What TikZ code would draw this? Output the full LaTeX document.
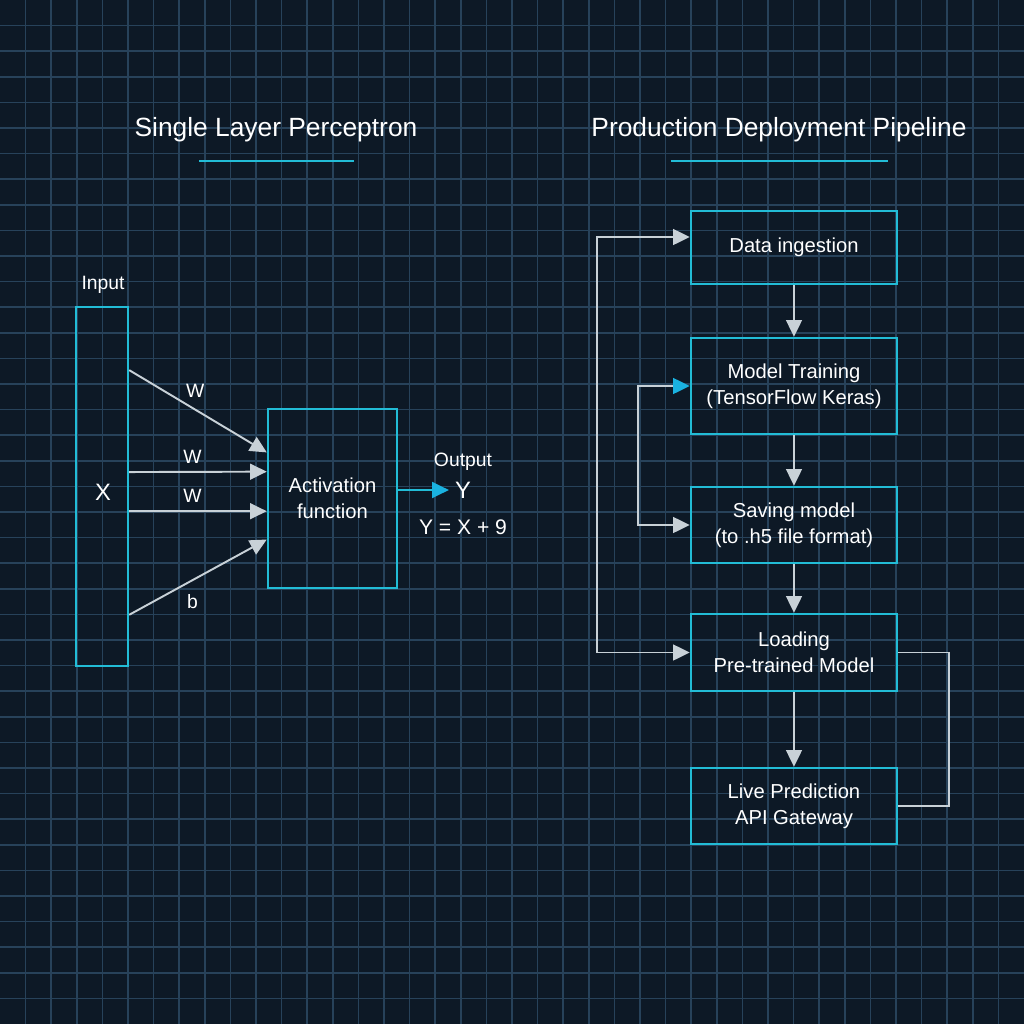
\documentclass[tikz,border=0pt]{standalone}
\usepackage{fontspec}
\setmainfont{Liberation Sans}
\usepackage{xcolor}
\usepackage{tikz}
\usetikzlibrary{arrows.meta,positioning,calc}

\definecolor{bgnavy}{HTML}{0D1926}
\definecolor{gridblue}{HTML}{27425A}
\definecolor{boxcyan}{HTML}{22BCD6}
\definecolor{tipcyan}{HTML}{1AB2E0}
\definecolor{wiregray}{HTML}{C8D1D7}

\begin{document}
\begin{tikzpicture}[x=0.02cm, y=-0.02cm,
    gridline/.style={gridblue, line width=0.9pt},
    heading/.style={text=white, font=\fontsize{15}{18}\selectfont},
    underline/.style={boxcyan, line width=1.4pt},
    lbl/.style={text=white, font=\fontsize{11}{13}\selectfont},
    biglbl/.style={text=white, font=\fontsize{13.5}{16}\selectfont},
    block/.style={draw=boxcyan, line width=1.4pt, minimum width=4.12cm, minimum height=1.5cm,
        align=center, text=white, font=\fontsize{11.5}{14.8}\selectfont},
    wire/.style={wiregray, line width=1.1pt, -{Triangle[length=9.5pt, width=9pt]}},
    cyanwire/.style={boxcyan, line width=1.3pt, -{Triangle[length=9.5pt, width=9pt, color=tipcyan]}},
    loopwire/.style={wiregray, line width=1.1pt}
]
    % background and grid
    \fill[bgnavy] (0,0) rectangle (1024,1024);
    \useasboundingbox (0,0) rectangle (1024,1024);
    \foreach \k in {1,...,39} {
        \draw[gridline] (\k*25.6,0) -- (\k*25.6,1024);
        \draw[gridline] (0,\k*25.6) -- (1024,\k*25.6);
    }

    % headings
    \node[heading] (slptitle) at (276,130) {Single Layer Perceptron};
    \draw[underline] (199,161) -- (354,161);
    \node[heading] (pipetitle) at (779,130) {Production Deployment Pipeline};
    \draw[underline] (671,161) -- (888,161);

    % perceptron
    \node[draw=boxcyan, line width=1.4pt, minimum width=1.04cm, minimum height=7.18cm] (input) at (102,486.5) {};
    \node[biglbl] (xin) at (103,492) {X};
    \node[lbl] (inputlbl) at (103,285) {Input};
    \node[draw=boxcyan, line width=1.4pt, minimum width=2.58cm, minimum height=3.58cm,
        align=center, text=white, font=\fontsize{11.5}{14.8}\selectfont] (act) at (332.5,498.5)
        {Activation\\function};
    \draw[wire] ($(input.north east)!0.178!(input.south east)$) -- ($(act.north west)!0.246!(act.south west)$)
        node[lbl, pos=0.48, above=3pt] {W};
    \draw[wire] ($(input.north east)!0.46!(input.south east)$) -- ($(act.north west)!0.352!(act.south west)$)
        node[lbl, pos=0.46, above=1pt] {W};
    \draw[wire] ($(input.north east)!0.568!(input.south east)$) -- ($(act.north west)!0.57!(act.south west)$)
        node[lbl, pos=0.46, above=1pt] {W};
    \draw[wire] ($(input.north east)!0.855!(input.south east)$) -- ($(act.north west)!0.726!(act.south west)$)
        node[lbl, pos=0.46, below=4pt] {b};

    \node[biglbl] (yout) at (463,490) {Y};
    \node[lbl] (outlbl) at (463,462) {Output};
    \node[lbl, font=\fontsize{12}{14}\selectfont] (eqn) at (463,527) {Y = X + 9};
    \draw[cyanwire] (act.east |- yout) -- (yout.west);

    % deployment pipeline
    \node[block, minimum height=1.46cm] (ingest) at (794,247.5) {Data ingestion};
    \node[block, minimum height=1.92cm] (train) at (794,386) {Model Training\\(TensorFlow Keras)};
    \node[block, minimum height=1.52cm] (save) at (794,525) {Saving model\\(to .h5 file format)};
    \node[block, minimum height=1.54cm] (load) at (794,652.5) {Loading\\Pre-trained Model};
    \node[block, minimum height=1.52cm] (serve) at (794,806) {Live Prediction\\API Gateway};

    \draw[wire] (ingest) -- (train);
    \draw[wire] (train) -- (save);
    \draw[wire] (save) -- (load);
    \draw[wire] (load) -- (serve);

    % feedback loops
    \draw[loopwire, {Triangle[length=9.5pt, width=9pt]}-{Triangle[length=9.5pt, width=9pt]}]
        (load.west) -- ++(-93,0) |- ([yshift=0.21cm]ingest.west);
    \draw[loopwire, {Triangle[length=9.5pt, width=9pt, color=tipcyan]}-{Triangle[length=9.5pt, width=9pt]}]
        (train.west) -- ++(-52,0) |- (save.west);
    \draw[loopwire] (load.east) -- ++(51,0) |- (serve.east);
\end{tikzpicture}
\end{document}
